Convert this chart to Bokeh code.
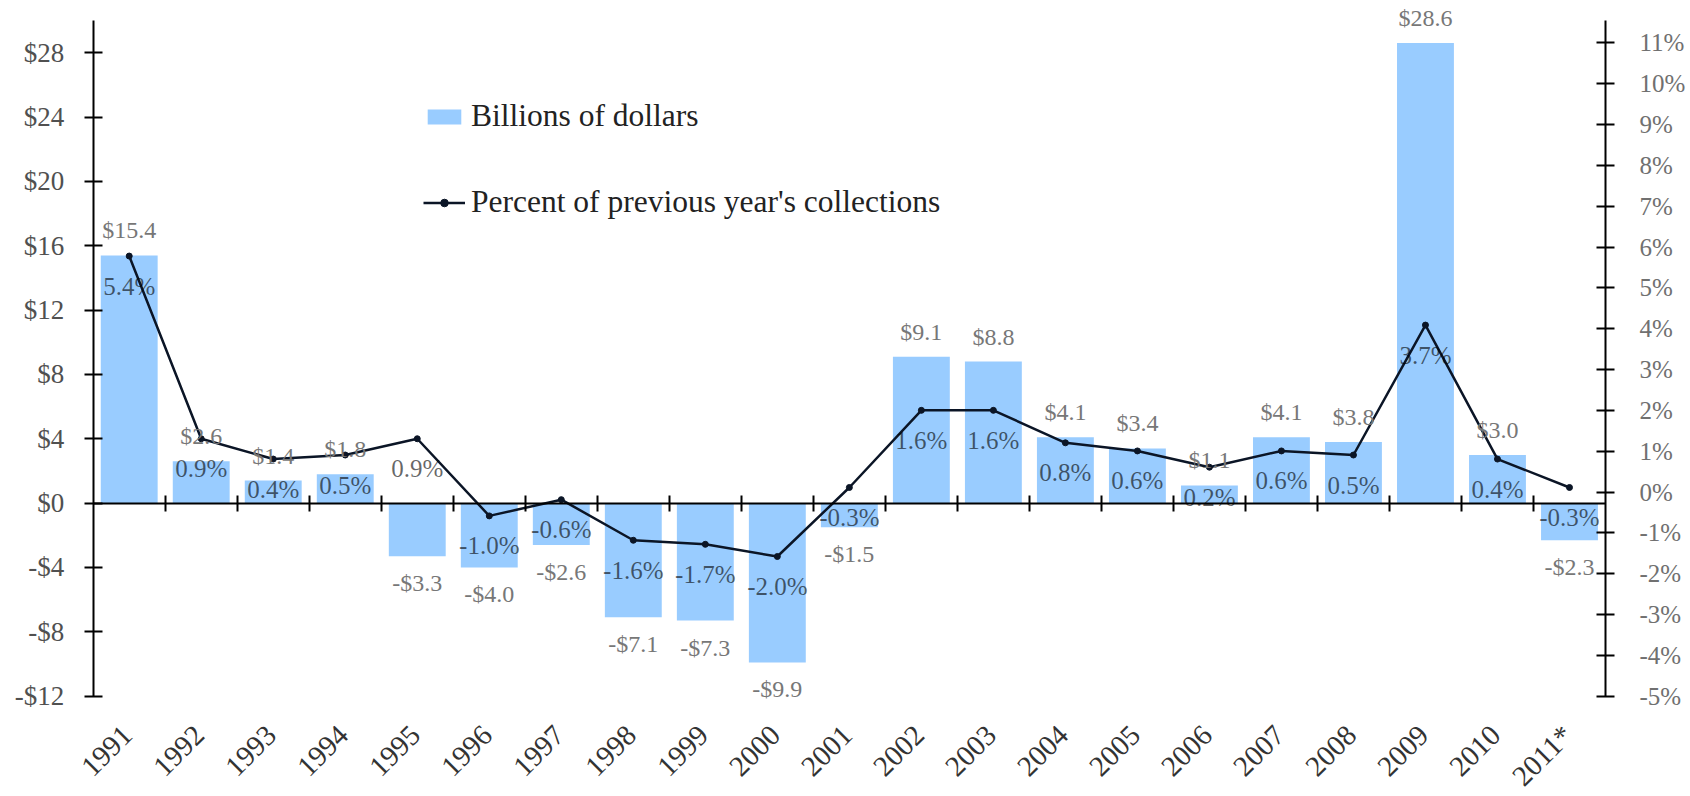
import math
from bokeh.plotting import figure
from bokeh.models import (ColumnDataSource, Range1d, LinearAxis, FixedTicker,
                          Legend, LegendItem, LabelSet)
from bokeh.embed import file_html
from bokeh.resources import INLINE

years = ["1991", "1992", "1993", "1994", "1995", "1996", "1997", "1998", "1999", "2000",
         "2001", "2002", "2003", "2004", "2005", "2006", "2007", "2008", "2009", "2010", "2011*"]
billions = [15.4, 2.6, 1.4, 1.8, -3.3, -4.0, -2.6, -7.1, -7.3, -9.9,
            -1.5, 9.1, 8.8, 4.1, 3.4, 1.1, 4.1, 3.8, 28.6, 3.0, -2.3]
percent = [5.4, 0.9, 0.4, 0.5, 0.9, -1.0, -0.6, -1.6, -1.7, -2.0,
           -0.3, 1.6, 1.6, 0.8, 0.6, 0.2, 0.6, 0.5, 3.7, 0.4, -0.3]
left_ticks = [-12, -8, -4, 0, 4, 8, 12, 16, 20, 24, 28]
right_ticks = [-5, -4, -3, -2, -1, 0, 1, 2, 3, 4, 5, 6, 7, 8, 9, 10, 11]

FONT = "Liberation Serif"
n = len(years)
xc = [i + 0.5 for i in range(n)]

# ---- layout: the frame fills the whole figure; axes sit at fixed positions in it ----
W, H = 1686, 794
X0_PX, XN_PX = 92.7, 1605.0              # figure px of the left and right value axes
AX_TOP, AX_BOT = 20.0, 695.7             # figure px of the value axes' ends
LEFT_MAX, LEFT_MIN = 30, -12             # left axis extent ($ billions)
RIGHT_MAX, RIGHT_MIN = 11.55, -5         # right axis extent (%)
LINE_ZERO_PX, LINE_PX_PER = 474.8, 40.6  # percent line scale as drawn in the reference

xpx = (XN_PX - X0_PX) / n
x_range = Range1d(-X0_PX / xpx, n + (W - XN_PX) / xpx)
lpx = (AX_BOT - AX_TOP) / (LEFT_MAX - LEFT_MIN)
rpx = (AX_BOT - AX_TOP) / (RIGHT_MAX - RIGHT_MIN)
y_range = Range1d(LEFT_MIN - (H - AX_BOT) / lpx, LEFT_MAX + AX_TOP / lpx)
pct_axis_range = Range1d(RIGHT_MIN - (H - AX_BOT) / rpx, RIGHT_MAX + AX_TOP / rpx)
pct_line_range = Range1d(-(H - LINE_ZERO_PX) / LINE_PX_PER, LINE_ZERO_PX / LINE_PX_PER)

src = ColumnDataSource(dict(
    x=xc, year=years, b=billions, pct=percent,
    blab=[("$%.1f" % v) if v >= 0 else ("-$%.1f" % -v) for v in billions],
    boff=[25 if v >= 0 else -27 for v in billions],
    plab=["%.1f%%" % v for v in percent],
    ybase=[LEFT_MIN] * n,
))

p = figure(width=W, height=H, output_backend="svg", toolbar_location=None,
           x_range=x_range, y_range=y_range,
           min_border_left=0, min_border_right=0, min_border_top=0, min_border_bottom=0,
           x_axis_location=None, y_axis_location=None)
p.outline_line_color = None
p.xgrid.visible = False
p.ygrid.visible = False
p.extra_y_ranges = {"pct": pct_line_range, "pct_axis": pct_axis_range}

bars = p.vbar(x="x", top="b", bottom=0, width=0.79, source=src,
              fill_color="#99CCFF", line_color=None)
line = p.line(x="x", y="pct", source=src, y_range_name="pct",
              line_color="#0b1526", line_width=2.5)
dots = p.scatter(x="x", y="pct", source=src, y_range_name="pct", size=6,
                 fill_color="#0b1526", line_color="#0b1526")

blabels = LabelSet(x="x", y="b", text="blab", source=src, y_offset="boff",
                   text_align="center", text_baseline="middle", text_font=FONT,
                   text_font_size="24px", text_color="#777777")
plabels = LabelSet(x="x", y="pct", text="plab", source=src, y_range_name="pct", y_offset=-30,
                   text_align="center", text_baseline="middle", text_font=FONT,
                   text_font_size="25px", text_color="black", text_alpha=0.6)
xlabels = LabelSet(x="x", y="ybase", text="year", source=src, x_offset=-2, y_offset=-34,
                   angle=math.pi / 4, text_align="right", text_baseline="middle",
                   text_font=FONT, text_font_size="29px", text_color="#333333")
p.add_layout(blabels)
p.add_layout(plabels)
p.add_layout(xlabels)

# left axis at x = 0
ly = LinearAxis(ticker=FixedTicker(ticks=left_ticks), bounds=(LEFT_MIN, LEFT_MAX), fixed_location=0,
                major_label_overrides={t: ("$%d" % t) if t >= 0 else ("-$%d" % -t) for t in left_ticks})
ly.axis_line_width = 2
ly.major_tick_line_width = 2
ly.major_tick_in = 9
ly.major_tick_out = 9
ly.minor_tick_line_color = None
ly.major_label_text_font = FONT
ly.major_label_text_font_size = "27px"
ly.major_label_text_color = "#505050"
ly.major_label_standoff = 20
p.add_layout(ly, "left")

# right axis at x = n
ry = LinearAxis(y_range_name="pct_axis", ticker=FixedTicker(ticks=right_ticks),
                bounds=(RIGHT_MIN, RIGHT_MAX), fixed_location=n,
                major_label_overrides={t: "%d%%" % t for t in right_ticks})
ry.axis_line_width = 2
ry.major_tick_line_width = 2
ry.major_tick_in = 9
ry.major_tick_out = 9
ry.minor_tick_line_color = None
ry.major_label_text_font = FONT
ry.major_label_text_font_size = "25px"
ry.major_label_text_color = "#707070"
ry.major_label_standoff = 25
p.add_layout(ry, "right")

# zero line axis with ticks at category boundaries
zx = LinearAxis(ticker=FixedTicker(ticks=list(range(1, n))), fixed_location=0, bounds=(0, n))
zx.axis_line_width = 2
zx.major_tick_line_width = 2
zx.major_tick_in = 8
zx.major_tick_out = 8
zx.minor_tick_line_color = None
zx.major_label_text_color = None
p.add_layout(zx, "below")

legend = Legend(items=[LegendItem(label="Billions of dollars", renderers=[bars]),
                       LegendItem(label="Percent of previous year's collections", renderers=[line, dots])],
                location=(423, 574), orientation="vertical")
legend.label_text_font = FONT
legend.label_text_font_size = "31.5px"
legend.label_text_color = "#222222"
legend.glyph_width = 42
legend.glyph_height = 19
legend.spacing = 50
legend.padding = 0
legend.margin = 0
legend.label_standoff = 6
legend.border_line_color = None
legend.background_fill_alpha = 0
p.add_layout(legend, "center")

open("out.html", "w").write(file_html(p, INLINE))
